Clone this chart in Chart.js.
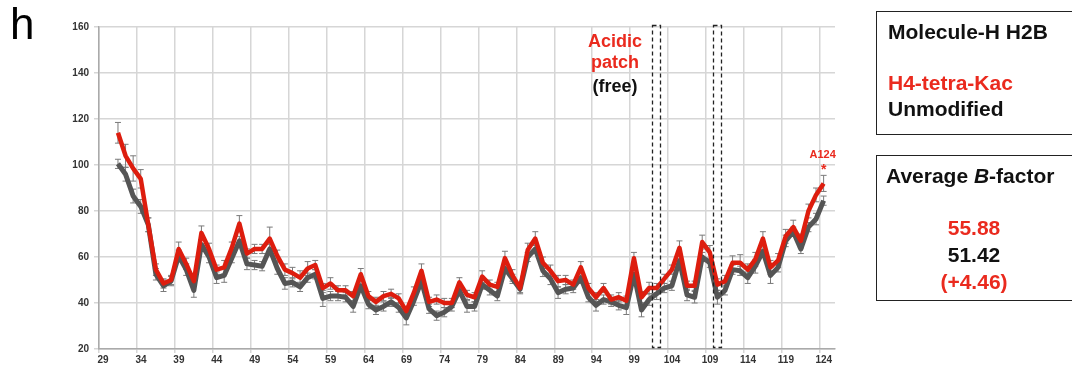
<!DOCTYPE html>
<html>
<head>
<meta charset="utf-8">
<script src="https://cdn.jsdelivr.net/npm/chart.js@4/dist/chart.umd.min.js"></script>
<style>
  html, body { margin: 0; padding: 0; background: #fff; }
  #wrap { position: relative; width: 1072px; height: 367px; overflow: hidden;
          font-family: "Liberation Sans", Arial, sans-serif; }
  #wrap canvas { position: absolute; left: 0; top: 0; }
  .panel { position: absolute; left: 10px; top: 2px; font-size: 44px; line-height: 44px; color: #000; }
  .box { position: absolute; left: 876px; width: 220px; border: 1.5px solid #222; box-sizing: border-box; }
  .txt { position: absolute; font-weight: bold; font-size: 21px; line-height: 22px; white-space: nowrap; color: #111; }
  .red { color: #ea2a1e; }
  .num { width: 196px; left: 876px; text-align: center; }
</style>
</head>
<body>
<div id="wrap">
  <canvas id="bfactor" width="1072" height="367"></canvas>
  <div class="panel">h</div>

  <div class="box" style="top:11px;height:124px;"></div>
  <div class="txt" style="left:888px;top:21px;">Molecule-H H2B</div>
  <div class="txt red" style="left:888px;top:72px;">H4-tetra-Kac</div>
  <div class="txt" style="left:888px;top:98px;">Unmodified</div>

  <div class="box" style="top:155px;height:146px;"></div>
  <div class="txt" style="left:886px;top:165px;">Average <i>B</i>-factor</div>
  <div class="txt red num" style="top:217px;">55.88</div>
  <div class="txt num" style="top:244px;">51.42</div>
  <div class="txt red num" style="top:271px;">(+4.46)</div>
</div>

<script>
/* global Chart */

// H2B residues 31..124, B-factor per residue.
var firstResidue = 31;

var tetraKac = [
    114, 104, 98.5, 94, 74, 54.5, 48.5, 50, 63.5, 57,
    49.5, 70.5, 63.5, 54.5, 55.5, 64, 74.5, 61.5, 63.5, 63.5,
    68, 60.5, 54.5, 53, 51, 55, 56.5, 46.5, 48.5, 45.5,
    45.5, 43, 52.5, 43, 40.5, 43, 44, 42, 36.5, 44.5,
    54, 40.5, 41.5, 40, 40, 49, 43.5, 42.5, 51.5, 48,
    47, 59.5, 52, 46.5, 63, 68, 57.5, 54, 49.5, 50,
    48, 55.5, 46.5, 42.5, 46.5, 41.5, 42.5, 41, 59.5, 42.5,
    46.5, 46.5, 50.5, 54.5, 64, 47.5, 47.5, 66.5, 62, 48,
    49.5, 57.5, 57.5, 54.5, 59, 68, 55.5, 58.5, 69, 73,
    67, 80, 87, 92
];
var tetraKacErr = [
    4.5, 5, 5.5, 4, 3, 2.5, 2, 2, 3, 2.5,
    2, 3, 2.5, 2, 3, 2.5, 3.5, 2, 2, 2,
    5, 2.5, 2.5, 2.5, 3, 3, 2, 2, 2.5, 2,
    2, 2, 2.5, 2, 2, 2, 2, 2, 2, 2.5,
    3, 2, 2, 2, 2, 2, 2, 2, 2.5, 2,
    2, 3, 2.5, 2, 3, 3, 2.5, 2.5, 2.5, 2,
    2, 2.5, 2, 2, 2, 2, 2, 2, 2.5, 2.5,
    2.5, 2, 2, 2, 3, 2, 2, 3, 3, 2.5,
    2.5, 3, 3.5, 2.5, 3, 3, 3, 3, 3, 3,
    3, 3, 3, 3.5
];
var unmodified = [
    100.5, 96, 86.5, 82, 74, 52.5, 47.5, 49.5, 60.5, 54.5,
    45.5, 65.5, 60, 51, 52, 59.5, 67, 57, 56.5, 56,
    63.5, 55, 48.5, 49, 47, 51, 52.5, 42, 43, 43,
    42.5, 38.5, 47.5, 39.5, 37, 38.5, 40.5, 38, 33.5, 41,
    49.5, 37.5, 34.5, 36, 38.5, 45.5, 38.5, 38.5, 48, 45.5,
    43, 55, 50.5, 46, 60, 63.5, 54, 50.5, 44.5, 46,
    46.5, 51, 42.5, 39, 41.5, 40.5, 39, 38, 52.5, 37,
    41.5, 44, 46.5, 47.5, 58.5, 43.5, 42.5, 60, 57.5, 42.5,
    45.5, 54.5, 54, 51, 56, 62.5, 52, 55.5, 67, 71,
    63.5, 73, 76.5, 84.5
];
var unmodifiedErr = [
    2, 3, 3, 3, 3, 2.5, 2.5, 2, 2.5, 2.5,
    3, 2, 2.5, 2.5, 3, 2, 2, 2.5, 2, 2,
    2, 2.5, 2.5, 2, 2, 2, 2, 3.5, 2, 2,
    2, 2.5, 2, 2, 2, 2, 2, 2, 3, 2,
    2, 2, 2, 2, 2, 2, 2.5, 2, 2, 2,
    2, 2, 2, 2, 2, 2, 2.5, 2.5, 2.5, 2,
    2, 2.5, 2, 2.5, 2, 2, 2, 3, 2, 3,
    2.5, 2.5, 2, 2, 2, 2.5, 2.5, 2, 2, 3,
    2, 2, 2, 2.5, 3, 2.5, 3.5, 2, 2.5, 2,
    2, 2, 2.5, 2
];

var xTicks = [29, 34, 39, 44, 49, 54, 59, 64, 69, 74, 79, 84, 89, 94, 99, 104, 109, 114, 119, 124];
var yTicks = [20, 40, 60, 80, 100, 120, 140, 160];

// Acidic patch contact residues (free).
var acidicPatch = [102, 110];

var RED = '#dd1d0e';
var GRAY = '#555555';
var FONT = '"Liberation Sans", Arial, sans-serif';

// Excel-style category axis: a residue sits in the middle of its slot.
function toPoints(values) {
    return values.map(function (v, i) {
        return { x: firstResidue + i + 0.5, y: v };
    });
}

var errorBars = {
    id: 'errorBars',
    beforeDatasetsDraw: function (chart) {
        var ctx = chart.ctx;
        var yScale = chart.scales.y;
        ctx.save();
        ctx.strokeStyle = '#7a7a7a';
        ctx.lineWidth = 1;
        chart.data.datasets.forEach(function (ds, di) {
            var meta = chart.getDatasetMeta(di);
            meta.data.forEach(function (pt, i) {
                var v = ds.data[i].y;
                var e = ds.errors[i];
                var top = yScale.getPixelForValue(v + e);
                var bot = yScale.getPixelForValue(v - e);
                ctx.beginPath();
                ctx.moveTo(pt.x, top); ctx.lineTo(pt.x, bot);
                ctx.moveTo(pt.x - 3, top); ctx.lineTo(pt.x + 3, top);
                ctx.moveTo(pt.x - 3, bot); ctx.lineTo(pt.x + 3, bot);
                ctx.stroke();
            });
        });
        ctx.restore();
    }
};

var annotations = {
    id: 'annotations',
    afterDraw: function (chart) {
        var ctx = chart.ctx;
        var xs = chart.scales.x, ys = chart.scales.y;
        ctx.save();

        // dashed boxes around the acidic patch residues
        ctx.strokeStyle = '#222';
        ctx.lineWidth = 1.3;
        ctx.setLineDash([4, 3]);
        var top = ys.getPixelForValue(160) - 2;
        var bot = ys.getPixelForValue(20) - 2;
        acidicPatch.forEach(function (r) {
            var l = xs.getPixelForValue(r - 0.1);
            var rr = xs.getPixelForValue(r + 0.95);
            ctx.strokeRect(Math.round(l) + 0.5, Math.round(top) + 0.5, Math.round(rr - l), Math.round(bot - top));
        });
        ctx.setLineDash([]);

        ctx.textAlign = 'center';
        ctx.textBaseline = 'middle';
        var cx = xs.getPixelForValue(97);
        ctx.font = 'bold 18px ' + FONT;
        ctx.fillStyle = '#ea2a1e';
        ctx.fillText('Acidic', cx, 42);
        ctx.fillText('patch', cx, 63);
        ctx.fillStyle = '#111';
        ctx.fillText('(free)', cx, 87);

        // A124 marker
        var last = tetraKac.length - 1;
        var ax = xs.getPixelForValue(firstResidue + last + 0.5);
        ctx.fillStyle = '#ea2a1e';
        ctx.font = 'bold 11px ' + FONT;
        ctx.fillText('A124', ax - 1, 155);
        ctx.font = 'bold 14px ' + FONT;
        ctx.fillText('*', ax, 170);
        ctx.restore();
    }
};

new Chart(document.getElementById('bfactor'), {
    type: 'line',
    data: {
        datasets: [{
            label: 'H4-tetra-Kac',
            data: toPoints(tetraKac),
            errors: tetraKacErr,
            borderColor: RED,
            borderWidth: 4.5,
            pointRadius: 0,
            tension: 0,
            borderJoinStyle: 'round'
        }, {
            label: 'Unmodified',
            data: toPoints(unmodified),
            errors: unmodifiedErr,
            borderColor: GRAY,
            borderWidth: 5,
            pointRadius: 0,
            tension: 0,
            borderJoinStyle: 'round'
        }]
    },
    options: {
        responsive: false,
        animation: false,
        devicePixelRatio: 1,
        layout: { padding: { left: 0, right: 237, top: 27, bottom: 0 } },
        plugins: {
            legend: { display: false },
            tooltip: { enabled: false }
        },
        scales: {
            x: {
                type: 'linear',
                min: 29,
                max: 126,
                afterBuildTicks: function (scale) {
                    scale.ticks = xTicks.map(function (v) { return { value: v }; });
                },
                afterFit: function (scale) { scale.height = 18; },
                grid: { color: '#d6d6d6', lineWidth: 1.5, tickLength: 4 },
                border: { color: '#aaaaaa', width: 1.5 },
                ticks: {
                    autoSkip: false,
                    maxRotation: 0,
                    padding: 1,
                    labelOffset: 4,
                    color: '#333',
                    font: { family: FONT, size: 10, weight: 'bold' }
                }
            },
            y: {
                min: 20,
                max: 160,
                afterBuildTicks: function (scale) {
                    scale.ticks = yTicks.map(function (v) { return { value: v }; });
                },
                afterFit: function (scale) { scale.width = 99; },
                grid: { color: '#d6d6d6', lineWidth: 1.5, tickLength: 5 },
                border: { color: '#aaaaaa', width: 1.5 },
                ticks: {
                    padding: 5,
                    color: '#333',
                    font: { family: FONT, size: 10, weight: 'bold' }
                }
            }
        }
    },
    plugins: [errorBars, annotations]
});
</script>
</body>
</html>
